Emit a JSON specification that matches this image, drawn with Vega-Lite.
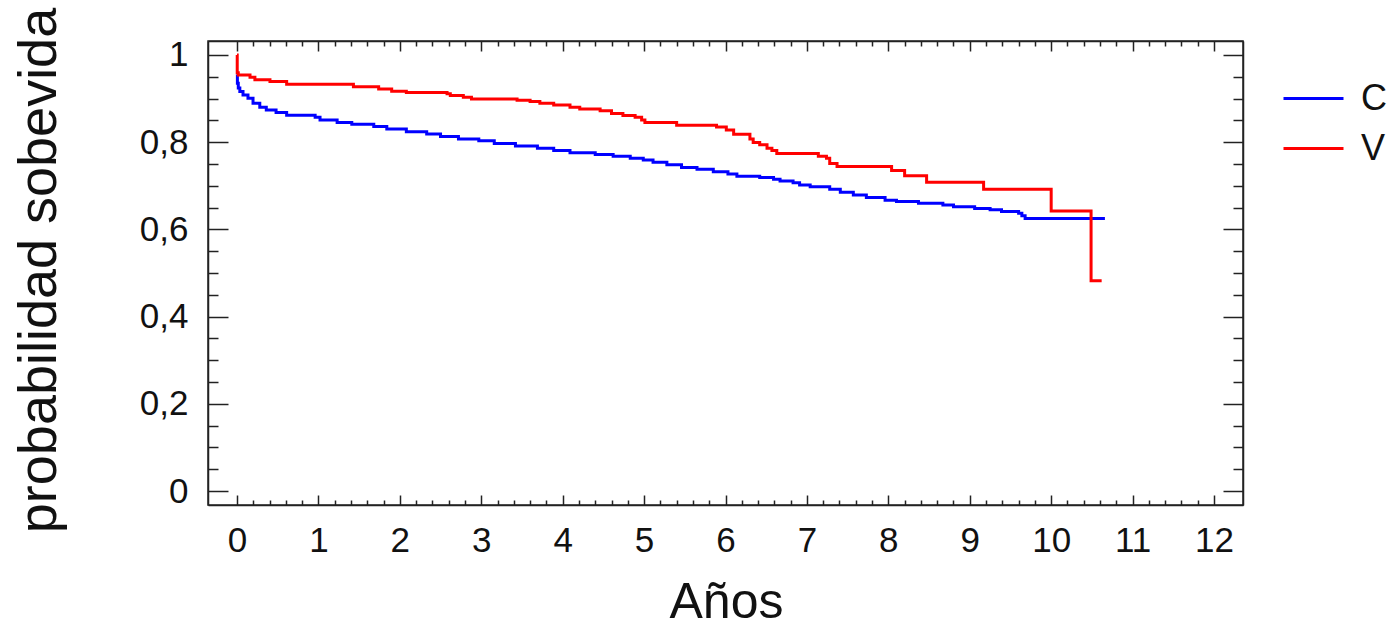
{
  "$schema": "https://vega.github.io/schema/vega-lite/v6.json",
  "width": 1035,
  "height": 464,
  "autosize": {"type": "none"},
  "padding": {"left": 208, "top": 41, "right": 148, "bottom": 122},
  "background": "white",
  "config": {
    "font": "Liberation Sans",
    "view": {"stroke": "#222", "strokeWidth": 1.5},
    "axis": {"domainColor": "#222", "domainWidth": 1.5, "tickColor": "#222", "tickWidth": 1.5, "grid": false, "labelColor": "#111", "titleColor": "#111", "labelFont": "Liberation Sans", "titleFont": "Liberation Sans", "titleFontWeight": "normal"}
  },
  "datasets": {
    "km": [
      {"grupo": "C", "t": 0, "p": 0.955},
      {"grupo": "C", "t": 0.005, "p": 0.935},
      {"grupo": "C", "t": 0.016, "p": 0.924},
      {"grupo": "C", "t": 0.035, "p": 0.916},
      {"grupo": "C", "t": 0.074, "p": 0.908},
      {"grupo": "C", "t": 0.135, "p": 0.901},
      {"grupo": "C", "t": 0.197, "p": 0.889},
      {"grupo": "C", "t": 0.28, "p": 0.88},
      {"grupo": "C", "t": 0.36, "p": 0.874},
      {"grupo": "C", "t": 0.48, "p": 0.868},
      {"grupo": "C", "t": 0.61, "p": 0.862},
      {"grupo": "C", "t": 0.96, "p": 0.857},
      {"grupo": "C", "t": 1.02, "p": 0.851},
      {"grupo": "C", "t": 1.23, "p": 0.845},
      {"grupo": "C", "t": 1.41, "p": 0.841},
      {"grupo": "C", "t": 1.68, "p": 0.836},
      {"grupo": "C", "t": 1.84, "p": 0.83},
      {"grupo": "C", "t": 2.08, "p": 0.824},
      {"grupo": "C", "t": 2.33, "p": 0.819},
      {"grupo": "C", "t": 2.5, "p": 0.813},
      {"grupo": "C", "t": 2.72, "p": 0.807},
      {"grupo": "C", "t": 2.97, "p": 0.803},
      {"grupo": "C", "t": 3.16, "p": 0.797},
      {"grupo": "C", "t": 3.42, "p": 0.791},
      {"grupo": "C", "t": 3.69, "p": 0.786},
      {"grupo": "C", "t": 3.89, "p": 0.781},
      {"grupo": "C", "t": 4.09, "p": 0.776},
      {"grupo": "C", "t": 4.4, "p": 0.772},
      {"grupo": "C", "t": 4.62, "p": 0.768},
      {"grupo": "C", "t": 4.83, "p": 0.763},
      {"grupo": "C", "t": 4.99, "p": 0.759},
      {"grupo": "C", "t": 5.11, "p": 0.754},
      {"grupo": "C", "t": 5.28, "p": 0.748},
      {"grupo": "C", "t": 5.46, "p": 0.742},
      {"grupo": "C", "t": 5.65, "p": 0.738},
      {"grupo": "C", "t": 5.85, "p": 0.732},
      {"grupo": "C", "t": 6.03, "p": 0.727},
      {"grupo": "C", "t": 6.14, "p": 0.722},
      {"grupo": "C", "t": 6.42, "p": 0.719},
      {"grupo": "C", "t": 6.59, "p": 0.715},
      {"grupo": "C", "t": 6.67, "p": 0.711},
      {"grupo": "C", "t": 6.83, "p": 0.707},
      {"grupo": "C", "t": 6.91, "p": 0.702},
      {"grupo": "C", "t": 7.04, "p": 0.698},
      {"grupo": "C", "t": 7.28, "p": 0.692},
      {"grupo": "C", "t": 7.41, "p": 0.685},
      {"grupo": "C", "t": 7.57, "p": 0.679},
      {"grupo": "C", "t": 7.73, "p": 0.673},
      {"grupo": "C", "t": 7.96, "p": 0.667},
      {"grupo": "C", "t": 8.1, "p": 0.664},
      {"grupo": "C", "t": 8.37, "p": 0.66},
      {"grupo": "C", "t": 8.67, "p": 0.656},
      {"grupo": "C", "t": 8.8, "p": 0.652},
      {"grupo": "C", "t": 9.06, "p": 0.648},
      {"grupo": "C", "t": 9.25, "p": 0.645},
      {"grupo": "C", "t": 9.39, "p": 0.641},
      {"grupo": "C", "t": 9.6, "p": 0.637},
      {"grupo": "C", "t": 9.64, "p": 0.631},
      {"grupo": "C", "t": 9.68, "p": 0.625},
      {"grupo": "C", "t": 10.66, "p": 0.625},
      {"grupo": "V", "t": 0, "p": 1.0},
      {"grupo": "V", "t": 0.003, "p": 0.959},
      {"grupo": "V", "t": 0.016, "p": 0.954},
      {"grupo": "V", "t": 0.16, "p": 0.949},
      {"grupo": "V", "t": 0.22, "p": 0.943},
      {"grupo": "V", "t": 0.405, "p": 0.939},
      {"grupo": "V", "t": 0.61, "p": 0.933},
      {"grupo": "V", "t": 1.43, "p": 0.927},
      {"grupo": "V", "t": 1.74, "p": 0.922},
      {"grupo": "V", "t": 1.9, "p": 0.917},
      {"grupo": "V", "t": 2.08, "p": 0.914},
      {"grupo": "V", "t": 2.58, "p": 0.911},
      {"grupo": "V", "t": 2.62, "p": 0.907},
      {"grupo": "V", "t": 2.78, "p": 0.903},
      {"grupo": "V", "t": 2.88, "p": 0.899},
      {"grupo": "V", "t": 3.44, "p": 0.896},
      {"grupo": "V", "t": 3.6, "p": 0.893},
      {"grupo": "V", "t": 3.72, "p": 0.889},
      {"grupo": "V", "t": 3.89, "p": 0.885},
      {"grupo": "V", "t": 4.09, "p": 0.88},
      {"grupo": "V", "t": 4.21, "p": 0.876},
      {"grupo": "V", "t": 4.46, "p": 0.872},
      {"grupo": "V", "t": 4.6, "p": 0.866},
      {"grupo": "V", "t": 4.74, "p": 0.861},
      {"grupo": "V", "t": 4.89, "p": 0.857},
      {"grupo": "V", "t": 4.97, "p": 0.851},
      {"grupo": "V", "t": 5.01, "p": 0.845},
      {"grupo": "V", "t": 5.4, "p": 0.839},
      {"grupo": "V", "t": 5.89, "p": 0.835},
      {"grupo": "V", "t": 6.01, "p": 0.828},
      {"grupo": "V", "t": 6.1, "p": 0.818},
      {"grupo": "V", "t": 6.3, "p": 0.807},
      {"grupo": "V", "t": 6.34, "p": 0.799},
      {"grupo": "V", "t": 6.42, "p": 0.794},
      {"grupo": "V", "t": 6.51, "p": 0.786},
      {"grupo": "V", "t": 6.57, "p": 0.781},
      {"grupo": "V", "t": 6.63, "p": 0.774},
      {"grupo": "V", "t": 7.14, "p": 0.768},
      {"grupo": "V", "t": 7.24, "p": 0.763},
      {"grupo": "V", "t": 7.28, "p": 0.751},
      {"grupo": "V", "t": 7.37, "p": 0.744},
      {"grupo": "V", "t": 8.04, "p": 0.735},
      {"grupo": "V", "t": 8.2, "p": 0.723},
      {"grupo": "V", "t": 8.47, "p": 0.708},
      {"grupo": "V", "t": 9.17, "p": 0.692},
      {"grupo": "V", "t": 10.0, "p": 0.642},
      {"grupo": "V", "t": 10.49, "p": 0.482},
      {"grupo": "V", "t": 10.62, "p": 0.482}
    ]
  },
  "data": {"name": "km"},
  "resolve": {"axis": {"x": "independent", "y": "independent"}},
  "layer": [
    {
      "mark": {"type": "line", "interpolate": "step-after", "strokeWidth": 3},
      "encoding": {
        "x": {
          "field": "t", "type": "quantitative",
          "scale": {"domain": [-0.356, 12.356], "nice": false, "zero": false},
          "axis": {
            "orient": "bottom",
            "title": "Años", "titleFontSize": 50, "titleX": 518, "titleY": 112, "titleAlign": "center", "titleBaseline": "alphabetic", "titleAnchor": null,
            "values": [0,0.2,0.4,0.6,0.8,1,1.2,1.4,1.6,1.8,2,2.2,2.4,2.6,2.8,3,3.2,3.4,3.6,3.8,4,4.2,4.4,4.6,4.8,5,5.2,5.4,5.6,5.8,6,6.2,6.4,6.6,6.8,7,7.2,7.4,7.6,7.8,8,8.2,8.4,8.6,8.8,9,9.2,9.4,9.6,9.8,10,10.2,10.4,10.6,10.8,11,11.2,11.4,11.6,11.8,12],
            "tickSize": {"condition": {"test": "abs(datum.value - round(datum.value)) < 0.001", "value": -10}, "value": -5},
            "labelExpr": "abs(datum.value - round(datum.value)) < 0.001 ? format(datum.value, 'd') : ''",
            "labelFontSize": 35, "labelPadding": 28, "labelFlush": false, "labelOverlap": false
          }
        },
        "y": {
          "field": "p", "type": "quantitative",
          "scale": {"domain": [-0.032, 1.032], "nice": false, "zero": false},
          "axis": {
            "orient": "left",
            "title": "probabilidad sobevida", "titleFontSize": 54, "titleX": -153, "titleY": 229, "titleAngle": -90, "titleAlign": "center", "titleBaseline": "alphabetic", "titleAnchor": null,
            "values": [0,0.05,0.1,0.15,0.2,0.25,0.3,0.35,0.4,0.45,0.5,0.55,0.6,0.65,0.7,0.75,0.8,0.85,0.9,0.95,1],
            "tickSize": {"condition": {"test": "abs(datum.value*5 - round(datum.value*5)) < 0.001", "value": -20}, "value": -10},
            "labelExpr": "abs(datum.value*5 - round(datum.value*5)) < 0.001 ? replace(format(datum.value, '.1~f'), '.', ',') : ''",
            "labelFontSize": 35, "labelPadding": 40, "labelFlush": false, "labelOverlap": false
          }
        },
        "color": {
          "field": "grupo", "type": "nominal",
          "scale": {"domain": ["C", "V"], "range": ["#0000ff", "#ff0000"]},
          "legend": {
            "title": null, "orient": "none", "legendX": 1074, "legendY": 26,
            "symbolType": "stroke", "symbolSize": 3600, "symbolStrokeWidth": 3,
            "labelFontSize": 36, "labelOffset": 16, "labelColor": "#111", "labelFont": "Liberation Sans",
            "rowPadding": -20, "padding": 0
          }
        }
      }
    },
    {
      "mark": {"type": "point", "opacity": 0},
      "encoding": {
        "x": {
          "field": "t", "type": "quantitative",
          "axis": {
            "orient": "top", "title": null, "labels": false,
            "values": [0,0.2,0.4,0.6,0.8,1,1.2,1.4,1.6,1.8,2,2.2,2.4,2.6,2.8,3,3.2,3.4,3.6,3.8,4,4.2,4.4,4.6,4.8,5,5.2,5.4,5.6,5.8,6,6.2,6.4,6.6,6.8,7,7.2,7.4,7.6,7.8,8,8.2,8.4,8.6,8.8,9,9.2,9.4,9.6,9.8,10,10.2,10.4,10.6,10.8,11,11.2,11.4,11.6,11.8,12],
            "tickSize": {"condition": {"test": "abs(datum.value - round(datum.value)) < 0.001", "value": -10}, "value": -5}
          }
        },
        "y": {
          "field": "p", "type": "quantitative",
          "axis": {
            "orient": "right", "title": null, "labels": false,
            "values": [0,0.05,0.1,0.15,0.2,0.25,0.3,0.35,0.4,0.45,0.5,0.55,0.6,0.65,0.7,0.75,0.8,0.85,0.9,0.95,1],
            "tickSize": {"condition": {"test": "abs(datum.value*5 - round(datum.value*5)) < 0.001", "value": -20}, "value": -10}
          }
        }
      }
    }
  ]
}
